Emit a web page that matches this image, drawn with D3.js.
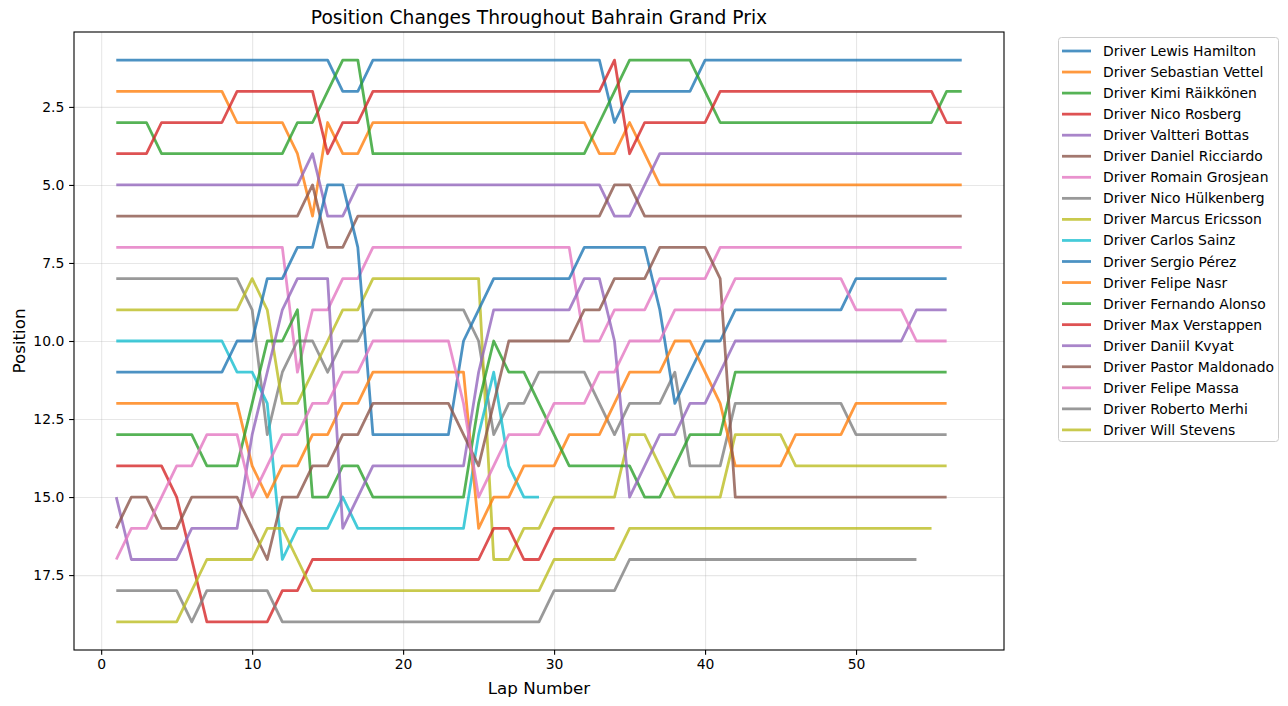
<!DOCTYPE html>
<html><head><meta charset="utf-8">
<script src="https://cdn.jsdelivr.net/npm/d3@7"></script>
<style>
html,body{margin:0;padding:0;background:#fff;}
svg{display:block;font-family:"DejaVu Sans",sans-serif;}
</style></head><body>
<svg id="chart" width="1288" height="706"></svg>
<script>
// ---------------- data ----------------
const driverNames = ["Lewis Hamilton","Sebastian Vettel","Kimi Räikkönen","Nico Rosberg","Valtteri Bottas",
  "Daniel Ricciardo","Romain Grosjean","Nico Hülkenberg","Marcus Ericsson","Carlos Sainz","Sergio Pérez",
  "Felipe Nasr","Fernando Alonso","Max Verstappen","Daniil Kvyat","Pastor Maldonado","Felipe Massa",
  "Roberto Merhi","Will Stevens"];

const hamilton = [1,1,1,1,1,1,1,1,1,1, 1,1,1,1,1,2,2,1,1,1, 1,1,1,1,1,1,1,1,1,1, 1,1,1,3,2,2,2,2,2,1, 1,1,1,1,1,1,1,1,1,1, 1,1,1,1,1,1,1];
const vettel = [2,2,2,2,2,2,2,2,3,3, 3,3,4,6,3,4,4,3,3,3, 3,3,3,3,3,3,3,3,3,3, 3,3,4,4,3,4,5,5,5,5, 5,5,5,5,5,5,5,5,5,5, 5,5,5,5,5,5,5];
const raikkonen = [3,3,3,4,4,4,4,4,4,4, 4,4,3,3,2,1,1,4,4,4, 4,4,4,4,4,4,4,4,4,4, 4,4,3,2,1,1,1,1,1,2, 3,3,3,3,3,3,3,3,3,3, 3,3,3,3,3,2,2];
const rosberg = [4,4,4,3,3,3,3,3,2,2, 2,2,2,2,4,3,3,2,2,2, 2,2,2,2,2,2,2,2,2,2, 2,2,2,1,4,3,3,3,3,3, 2,2,2,2,2,2,2,2,2,2, 2,2,2,2,2,3,3];
const bottas = [5,5,5,5,5,5,5,5,5,5, 5,5,5,4,6,6,5,5,5,5, 5,5,5,5,5,5,5,5,5,5, 5,5,5,6,6,5,4,4,4,4, 4,4,4,4,4,4,4,4,4,4, 4,4,4,4,4,4,4];
const ricciardo = [6,6,6,6,6,6,6,6,6,6, 6,6,6,5,7,7,6,6,6,6, 6,6,6,6,6,6,6,6,6,6, 6,6,6,5,5,6,6,6,6,6, 6,6,6,6,6,6,6,6,6,6, 6,6,6,6,6,6,6];
const grosjean = [7,7,7,7,7,7,7,7,7,7, 7,7,11,9,9,8,8,7,7,7, 7,7,7,7,7,7,7,7,7,7, 7,10,10,9,9,9,8,8,8,8, 7,7,7,7,7,7,7,7,7,7, 7,7,7,7,7,7,7];
const hulkenberg = [8,8,8,8,8,8,8,8,8,9, 13,11,10,10,11,10,10,9,9,9, 9,9,9,9,10,13,12,12,11,11, 11,11,12,13,12,12,12,11,14,14, 14,12,12,12,12,12,12,12,12,13, 13,13,13,13,13,13];
const ericsson = [9,9,9,9,9,9,9,9,9,8, 9,12,12,11,10,9,9,8,8,8, 8,8,8,8,8,17,17,16,16,15, 15,15,15,15,13,13,14,15,15,15, 15,13,13,13,13,14,14,14,14,14, 14,14,14,14,14,14];
const sainz = [10,10,10,10,10,10,10,10,11,11, 12,17,16,16,16,15,16,16,16,16, 16,16,16,16,13,11,14,15,15];
const perez = [11,11,11,11,11,11,11,11,10,10, 8,8,7,7,5,5,7,13,13,13, 13,13,13,10,9,8,8,8,8,8, 8,7,7,7,7,7,9,12,11,10, 10,9,9,9,9,9,9,9,9,8, 8,8,8,8,8,8];
const nasr = [12,12,12,12,12,12,12,12,12,14, 15,14,14,13,13,12,12,11,11,11, 11,11,11,11,16,15,15,14,14,14, 13,13,13,12,11,11,11,10,10,11, 12,14,14,14,14,13,13,13,13,12, 12,12,12,12,12,12];
const alonso = [13,13,13,13,13,13,14,14,14,12, 10,10,9,15,15,14,14,15,15,15, 15,15,15,15,12,10,11,11,12,13, 14,14,14,14,14,15,15,14,13,13, 13,11,11,11,11,11,11,11,11,11, 11,11,11,11,11,11];
const verstappen = [14,14,14,14,15,17,19,19,19,19, 19,18,18,17,17,17,17,17,17,17, 17,17,17,17,17,16,16,17,17,16, 16,16,16,16];
const kvyat = [15,17,17,17,17,16,16,16,16,13, 11,9,8,8,8,16,15,14,14,14, 14,14,14,14,11,9,9,9,9,9, 9,8,8,10,15,14,13,13,12,12, 11,10,10,10,10,10,10,10,10,10, 10,10,10,9,9,9];
const maldonado = [16,15,15,16,16,15,15,15,15,16, 17,15,15,14,14,13,13,12,12,12, 12,12,12,13,14,12,10,10,10,10, 10,9,9,8,8,8,7,7,7,7, 8,15,15,15,15,15,15,15,15,15, 15,15,15,15,15,15];
const massa = [17,16,16,15,14,14,13,13,13,15, 14,13,13,12,12,11,11,10,10,10, 10,10,10,12,15,14,13,13,13,12, 12,12,11,11,10,10,10,9,9,9, 9,8,8,8,8,8,8,8,8,9, 9,9,9,10,10,10];
const merhi = [18,18,18,18,18,19,18,18,18,18, 18,19,19,19,19,19,19,19,19,19, 19,19,19,19,19,19,19,19,19,18, 18,18,18,18,17,17,17,17,17,17, 17,17,17,17,17,17,17,17,17,17, 17,17,17,17];
const stevens = [19,19,19,19,19,18,17,17,17,17, 16,16,17,18,18,18,18,18,18,18, 18,18,18,18,18,18,18,18,18,17, 17,17,17,17,16,16,16,16,16,16, 16,16,16,16,16,16,16,16,16,16, 16,16,16,16,16];

const positionSeries = [hamilton, vettel, raikkonen, rosberg, bottas, ricciardo, grosjean, hulkenberg,
  ericsson, sainz, perez, nasr, alonso, verstappen, kvyat, maldonado, massa, merhi, stevens];

const xTickValues = [0, 10, 20, 30, 40, 50];
const yTickValues = [2.5, 5.0, 7.5, 10.0, 12.5, 15.0, 17.5];
const palette = ["#1f77b4","#ff7f0e","#2ca02c","#d62728","#9467bd","#8c564b","#e377c2","#7f7f7f","#bcbd22","#17becf"];

const titleText = "Position Changes Throughout Bahrain Grand Prix";
const xLabelText = "Lap Number";
const yLabelText = "Position";

// ---------------- layout ----------------
const W = 1288, H = 706;
const plot = {left: 74, right: 1004, top: 32, bottom: 650};
const svg = d3.select("#chart");

const allLaps = positionSeries.map(s => s.length);
const maxLap = d3.max(allLaps);
const xPad = (maxLap - 1) * 0.05;
const yMin = d3.min(positionSeries, s => d3.min(s)), yMax = d3.max(positionSeries, s => d3.max(s));
const yPad = (yMax - yMin) * 0.05;

const x = d3.scaleLinear().domain([1 - xPad, maxLap + xPad]).range([plot.left, plot.right]);
const y = d3.scaleLinear().domain([yMin - yPad, yMax + yPad]).range([plot.top, plot.bottom]);

const pw = plot.right - plot.left, ph = plot.bottom - plot.top;

// grid
svg.append("g").attr("transform", `translate(0,${plot.bottom})`)
  .call(d3.axisBottom(x).tickValues(xTickValues).tickSize(-ph).tickFormat(""))
  .call(g => g.select(".domain").remove())
  .call(g => g.selectAll("line").attr("stroke", "#b0b0b0").attr("stroke-opacity", 0.3).attr("stroke-width", 1.1));
svg.append("g").attr("transform", `translate(${plot.left},0)`)
  .call(d3.axisLeft(y).tickValues(yTickValues).tickSize(-pw).tickFormat(""))
  .call(g => g.select(".domain").remove())
  .call(g => g.selectAll("line").attr("stroke", "#b0b0b0").attr("stroke-opacity", 0.3).attr("stroke-width", 1.1));

// lines
const clipId = "plotclip";
svg.append("clipPath").attr("id", clipId).append("rect")
  .attr("x", plot.left).attr("y", plot.top).attr("width", pw).attr("height", ph);

const line = d3.line().x((d, i) => x(i + 1)).y(d => y(d));
const linesG = svg.append("g").attr("clip-path", `url(#${clipId})`);
positionSeries.forEach((s, i) => {
  linesG.append("path").datum(s)
    .attr("d", line)
    .attr("fill", "none")
    .attr("stroke", palette[i % palette.length])
    .attr("stroke-opacity", 0.8)
    .attr("stroke-width", 2.78)
    .attr("stroke-linejoin", "round")
    .attr("stroke-linecap", "butt");
});

// axes
const fmtY = d3.format(".1f");
const xAxis = svg.append("g").attr("transform", `translate(0,${plot.bottom})`)
  .call(d3.axisBottom(x).tickValues(xTickValues).tickSize(4.86).tickPadding(4.4).tickSizeOuter(0));
const yAxis = svg.append("g").attr("transform", `translate(${plot.left},0)`)
  .call(d3.axisLeft(y).tickValues(yTickValues).tickFormat(fmtY).tickSize(4.86).tickPadding(4.86).tickSizeOuter(0));
[xAxis, yAxis].forEach(g => {
  g.select(".domain").remove();
  g.selectAll("line").attr("stroke", "#000").attr("stroke-width", 1.1);
  g.selectAll("text").attr("fill", "#000").attr("font-size", "13.9px").attr("font-family", "DejaVu Sans, sans-serif");
});

// frame
svg.append("rect").attr("x", plot.left).attr("y", plot.top).attr("width", pw).attr("height", ph)
  .attr("fill", "none").attr("stroke", "#000").attr("stroke-width", 1.1);

// title and labels
svg.append("text").attr("x", (plot.left + plot.right) / 2).attr("y", 24)
  .attr("text-anchor", "middle").attr("font-size", "18.7px").attr("fill", "#000").text(titleText);
svg.append("text").attr("x", (plot.left + plot.right) / 2).attr("y", 694)
  .attr("text-anchor", "middle").attr("font-size", "16.7px").attr("fill", "#000").text(xLabelText);
svg.append("text").attr("transform", `translate(25,${(plot.top + plot.bottom) / 2}) rotate(-90)`)
  .attr("text-anchor", "middle").attr("font-size", "16.7px").attr("fill", "#000").text(yLabelText);

// legend
const legend = {x: 1058, y: 37, w: 220, h: 404, row: 21.05, first: 51};
svg.append("rect").attr("x", legend.x + 0.5).attr("y", legend.y + 0.5).attr("width", legend.w).attr("height", legend.h)
  .attr("rx", 3).attr("fill", "#fff").attr("fill-opacity", 0.8).attr("stroke", "#cccccc").attr("stroke-width", 1);
const lg = svg.append("g");
driverNames.forEach((name, i) => {
  const yy = legend.first + i * legend.row;
  lg.append("line").attr("x1", 1062).attr("x2", 1091).attr("y1", yy).attr("y2", yy)
    .attr("stroke", palette[i % palette.length]).attr("stroke-opacity", 0.8).attr("stroke-width", 2.78);
  lg.append("text").attr("x", 1103).attr("y", yy).attr("dy", "0.36em")
    .attr("font-size", "13.9px").attr("fill", "#000").text("Driver " + name);
});
</script>
</body></html>
